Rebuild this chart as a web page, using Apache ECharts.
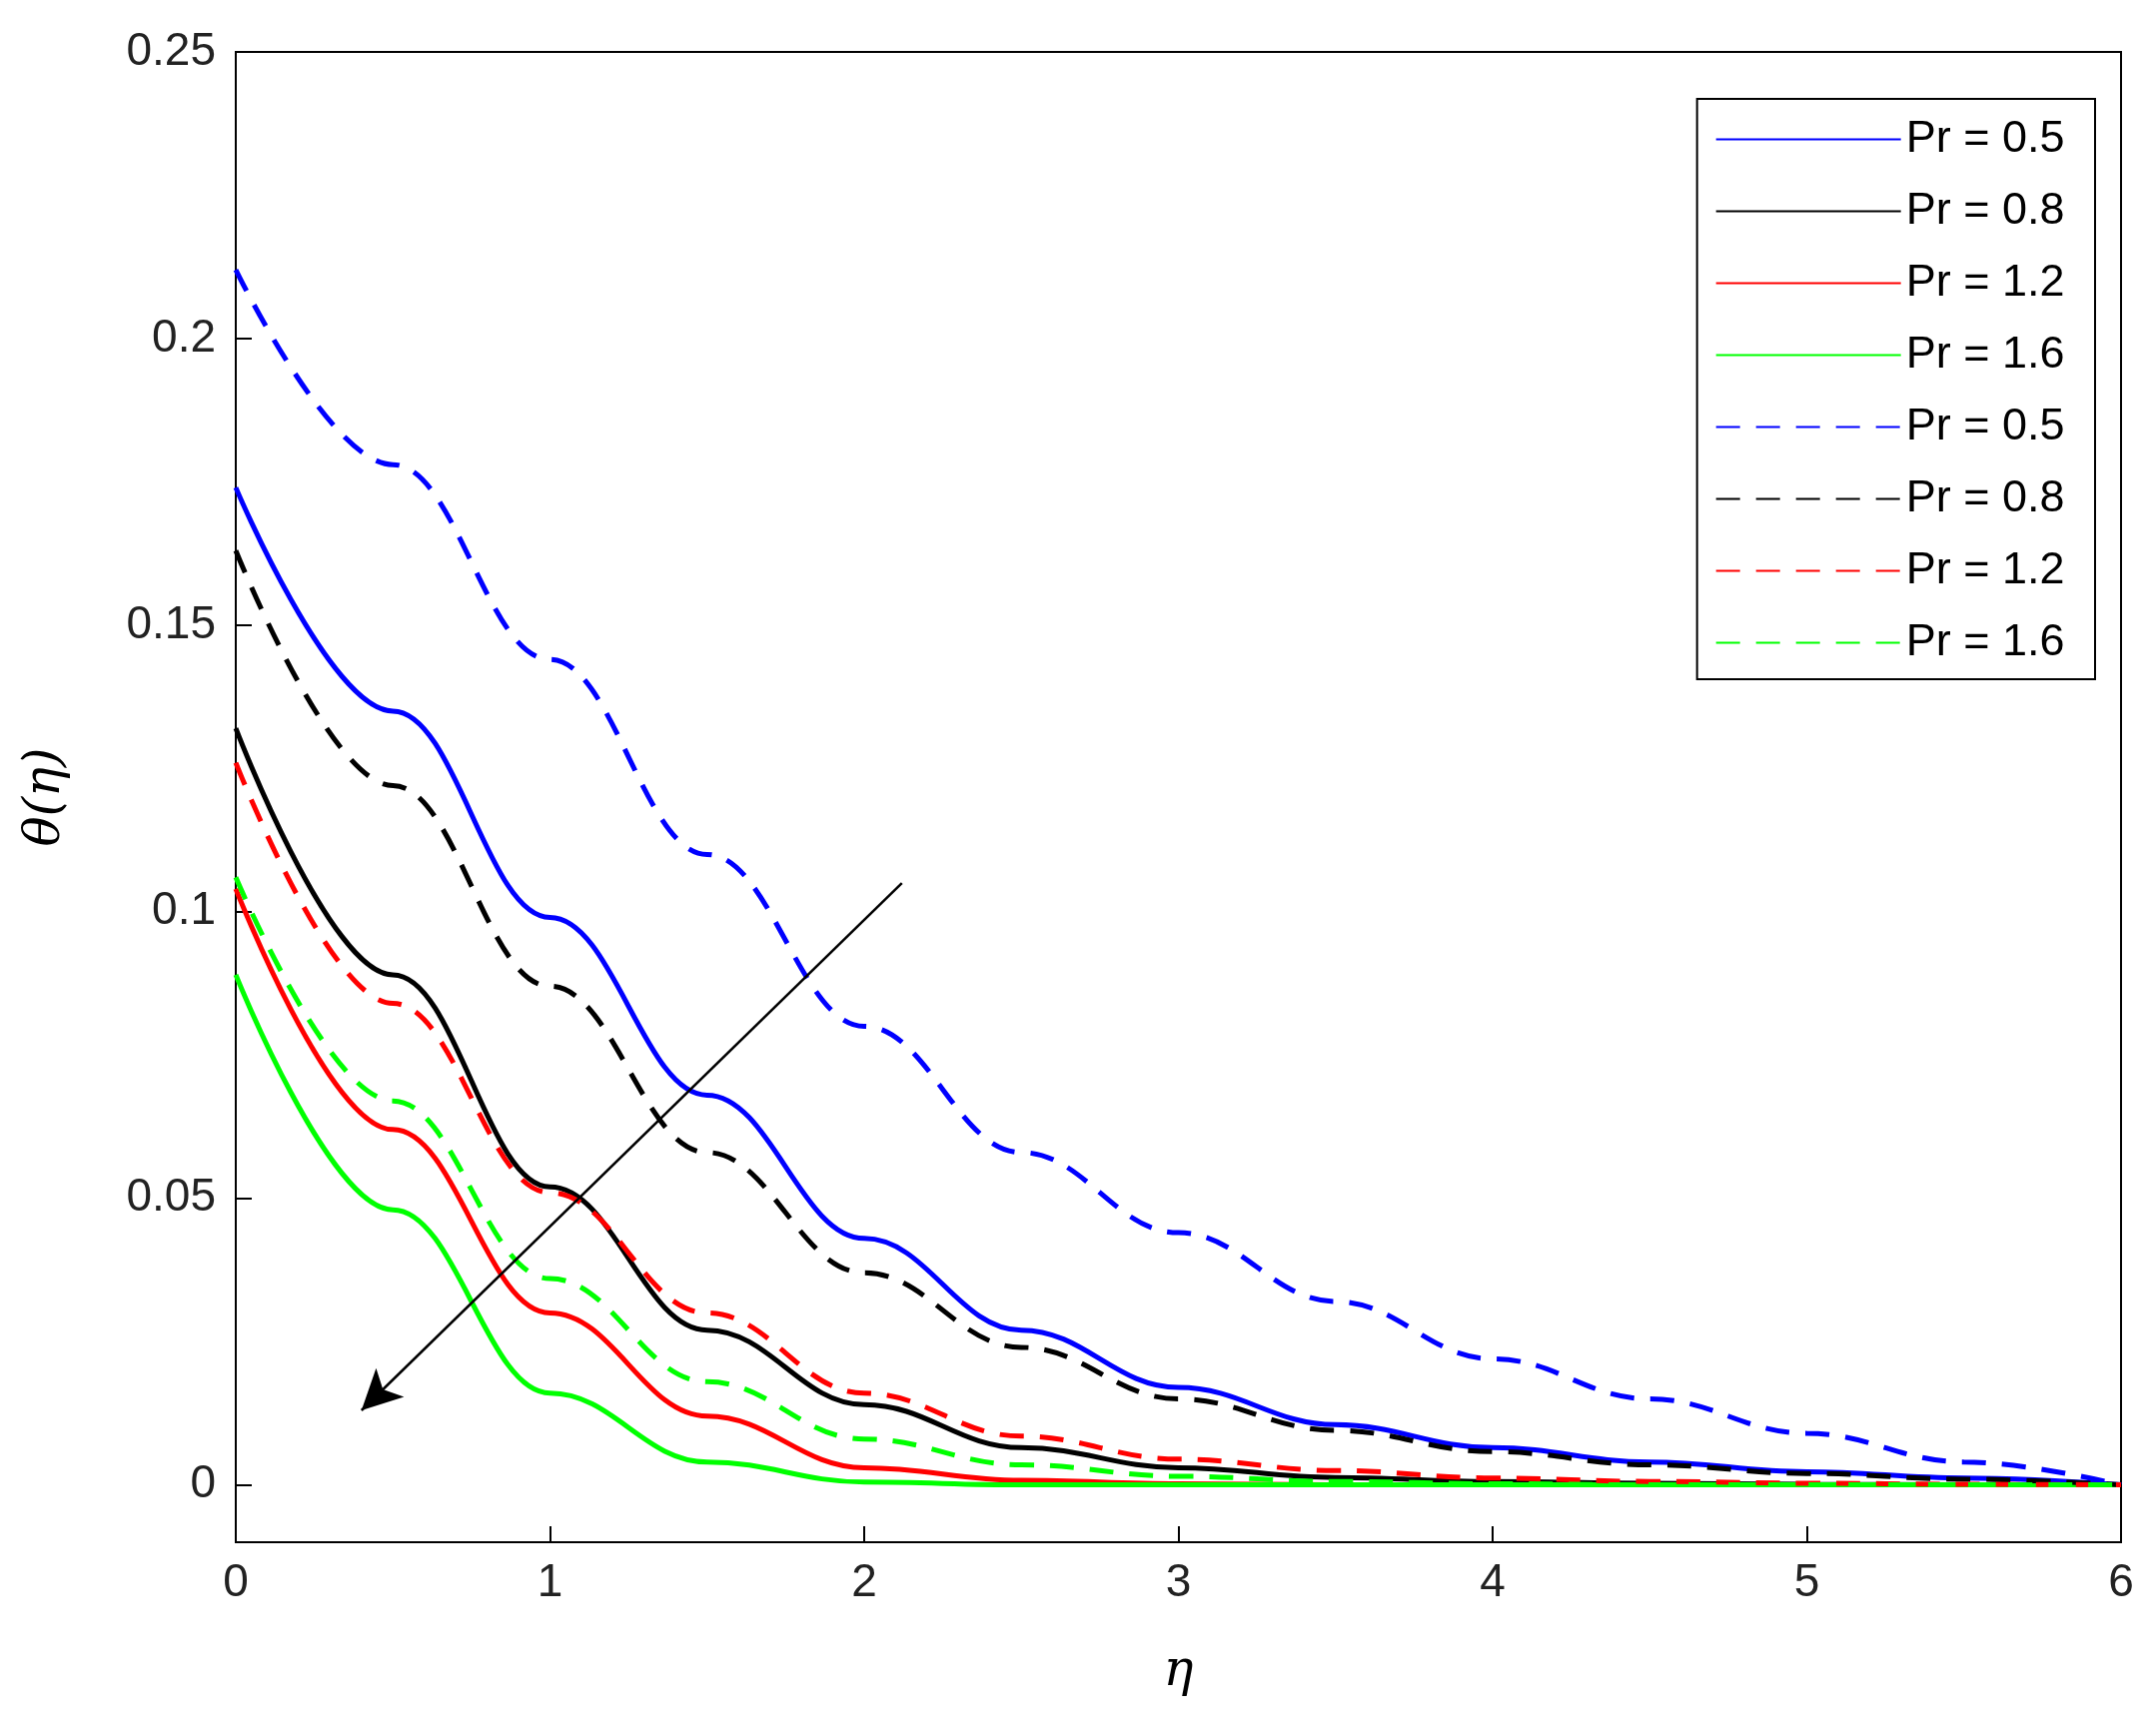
<!DOCTYPE html><html><head><meta charset="utf-8">
<script src="https://cdn.jsdelivr.net/npm/echarts@6/dist/echarts.min.js"></script>
<style>body{margin:0}#c{width:2152px;height:1738px}</style></head><body><div id="c"></div>
<script>
const eta = [0,0.5,1,1.5,2,2.5,3,3.5,4,4.5,5,5.5,6];
const solid05 = [0.174,0.135,0.099,0.068,0.043,0.027,0.017,0.0105,0.0065,0.004,0.0023,0.0012,0];
const solid08 = [0.132,0.089,0.052,0.027,0.014,0.0065,0.003,0.0013,0.0006,0.0003,0.0001,0,0];
const solid12 = [0.104,0.062,0.030,0.012,0.003,0.0008,0.0002,0,0,0,0,0,0];
const solid16 = [0.089,0.048,0.016,0.004,0.0005,0,0,0,0,0,0,0,0];
const dash05 = [0.212,0.178,0.144,0.110,0.080,0.058,0.044,0.032,0.022,0.015,0.009,0.004,0];
const dash08 = [0.163,0.122,0.087,0.058,0.037,0.024,0.015,0.0095,0.0058,0.0035,0.002,0.001,0];
const dash12 = [0.126,0.084,0.051,0.030,0.016,0.0085,0.0045,0.0025,0.0012,0.0006,0.0003,0.0001,0];
const dash16 = [0.106,0.067,0.036,0.018,0.008,0.0035,0.0015,0.0006,0.0002,0,0,0,0];
const arrowFrom = [2.12,0.105], arrowTo = [0.4,0.013];
const yTicks = [0,0.05,0.1,0.15,0.2,0.25];
const names = ['Pr = 0.5','Pr = 0.8','Pr = 1.2','Pr = 1.6'];
const colors = ['#0000ff','#000000','#ff0000','#00ff00'];
const solids=[solid05,solid08,solid12,solid16], dashes=[dash05,dash08,dash12,dash16];
const series=[];
solids.forEach((d,i)=>series.push({name:names[i]+' ',type:'line',smooth:0.4,smoothMonotone:'x',symbol:'none',data:eta.map((x,j)=>[x,d[j]]),lineStyle:{color:colors[i],width:5},itemStyle:{color:colors[i]}}));
dashes.forEach((d,i)=>series.push({name:names[i],type:'line',smooth:0.4,smoothMonotone:'x',symbol:'none',data:eta.map((x,j)=>[x,d[j]]),lineStyle:{color:colors[i],width:5,type:[24,16]},itemStyle:{color:colors[i]}}));
series.push({type:'line',data:[],markLine:{silent:true,symbol:['none','arrow'],symbolSize:[30,40],label:{show:false},lineStyle:{color:'#000',width:2.5,type:'solid'},data:[[{coord:arrowFrom},{coord:arrowTo}]]}});
const font='Liberation Sans, Arial';
const chart=echarts.init(document.getElementById('c'));
chart.setOption({animation:false,backgroundColor:'#fff',
grid:{left:236,right:29,top:52,bottom:194},
legend:{data:series.slice(0,8).map(s=>s.name),orient:'vertical',right:55,top:99,itemWidth:185,itemHeight:20,itemGap:27,padding:[18,18,14,18],borderColor:'#000',borderWidth:2,backgroundColor:'#fff',itemStyle:{opacity:0},textStyle:{fontFamily:font,fontSize:45,color:'#000'}},
xAxis:{type:'value',min:0,max:6,interval:1,name:'η',nameLocation:'middle',nameGap:105,nameTextStyle:{fontFamily:'DejaVu Serif',fontStyle:'italic',fontSize:50,color:'#000'},
axisLine:{onZero:false,lineStyle:{color:'#000',width:2}},axisTick:{inside:true,length:16,lineStyle:{color:'#000',width:2}},splitLine:{show:false},axisLabel:{fontFamily:font,fontSize:46,color:'#222',margin:18}},
yAxis:{type:'value',min:-0.01,max:0.25,name:'θ(η)',nameLocation:'middle',nameGap:165,nameTextStyle:{fontFamily:'DejaVu Serif',fontStyle:'italic',fontSize:50,color:'#000'},
axisLine:{lineStyle:{color:'#000',width:2}},axisTick:{inside:true,length:16,customValues:yTicks,lineStyle:{color:'#000',width:2}},splitLine:{show:false},axisLabel:{fontFamily:font,fontSize:46,color:'#222',margin:20,customValues:yTicks,formatter:v=>String(+v.toFixed(2))}},
series});
chart.setOption({graphic:[{type:'rect',shape:{x:236,y:52,width:2152-29-236,height:1738-194-52},style:{fill:'none',stroke:'#000',lineWidth:2},silent:true,z:-1}]});
</script></body></html>
